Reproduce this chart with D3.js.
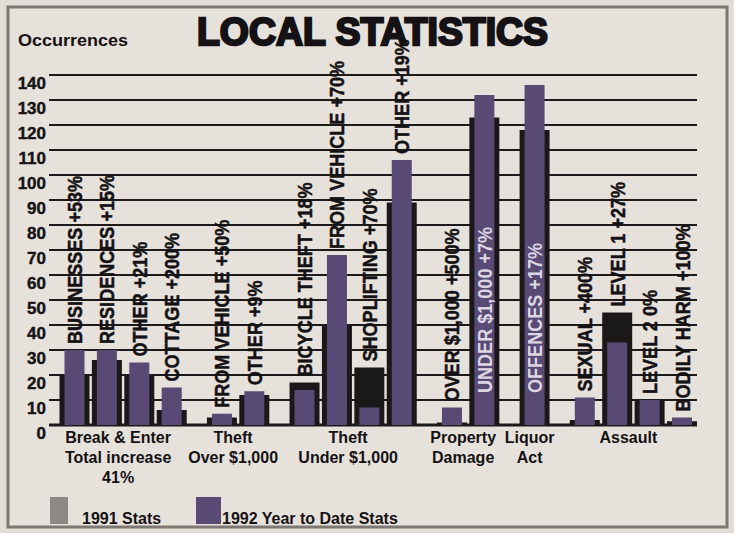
<!DOCTYPE html>
<html>
<head>
<meta charset="utf-8">
<script src="https://cdn.jsdelivr.net/npm/d3@7"></script>
<style>
  body { margin: 0; background: #e3ddd7; }
  svg { display: block; }
  text { font-family: "Liberation Sans", Arial, sans-serif; font-weight: bold; fill: #141214; }
</style>
</head>
<body>
<div id="chart"></div>
<script>
const w = 734
const h = 533

// --- Data ---
const categoryLines = [
  ["Break & Enter", "Total increase", "41%"],
  ["Theft", "Over $1,000"],
  ["Theft", "Under $1,000"],
  ["Property", "Damage"],
  ["Liquor", "Act"],
  ["Assault"]
]
// group index of each sub bar
const subGroup = [0, 0, 0, 0, 1, 1, 2, 2, 2, 2, 3, 3, 4, 5, 5, 5, 5]
const subLabels = [
  "BUSINESSES +53%", "RESIDENCES +15%", "OTHER +21%", "COTTAGE +200%",
  "FROM VEHICLE +50%", "OTHER +9%",
  "BICYCLE THEFT +18%", "FROM VEHICLE +70%", "SHOPLIFTING +70%", "OTHER +19%",
  "OVER $1,000 +500%", "UNDER $1,000 +7%",
  "OFFENCES +17%",
  "SEXUAL +400%", "LEVEL 1 +27%", "LEVEL 2 0%", "BODILY HARM +100%"
]
const stats1991 = [20, 26, 20, 6, 3, 12, 17, 40, 23, 89, 1, 123, 118, 2, 45, 10, 1.5]
const stats1992 = [30, 30, 25, 15, 4.5, 13.5, 14, 68, 7, 106, 7, 132, 136, 11, 33, 10, 3]
// labels printed inside the bar (white)
const labelInside = [11, 12]
const yTicks = d3.range(0, 141, 10)
const legendItems = ["1991 Stats", "1992 Year to Date Stats"]

const svg = d3.select("#chart")
  .append("svg")
    .attr("width", w)
    .attr("height", h)

// frame
svg.append("rect")
  .attr("x", 8).attr("y", 7)
  .attr("width", 719).attr("height", 520)
  .attr("fill", "#e7e1db")
  .attr("stroke", "#7d7874")
  .attr("stroke-width", 3)

// Scales
const groupGap = 0.55
const slot = subGroup.map((g, i) => i + g * groupGap)
const xScale = d3.scaleLinear()
  .domain([0, d3.max(slot)])
  .range([74.5, 682])

const yScale = d3.scaleLinear()
  .domain([0, 140])
  .range([425, 75])

// Title
svg.append("text")
  .attr("x", 197).attr("y", 45)
  .attr("textLength", 351)
  .attr("lengthAdjust", "spacingAndGlyphs")
  .style("font-size", "38px")
  .style("stroke", "#141214")
  .style("stroke-width", 2.4)
  .text("LOCAL STATISTICS")

svg.append("text")
  .attr("x", 18).attr("y", 46)
  .attr("textLength", 110)
  .attr("lengthAdjust", "spacingAndGlyphs")
  .style("font-size", "16px")
  .text("Occurrences")

// Grid lines + tick labels
const grid = svg.append("g")
grid.selectAll("line")
  .data(yTicks)
  .join("line")
    .attr("x1", 49).attr("x2", 697)
    .attr("y1", d => yScale(d)).attr("y2", d => yScale(d))
    .attr("stroke", "#1c1a1b")
    .attr("stroke-width", d => d === 0 ? 3 : 2)

grid.selectAll("text")
  .data(yTicks)
  .join("text")
    .attr("x", 46)
    .attr("y", d => yScale(d) + 14)
    .attr("text-anchor", "end")
    .style("font-size", "17px")
    .style("stroke", "#141214")
    .style("stroke-width", 0.4)
    .text(d => d)

// Bars: 1991 wider behind, 1992 in front
const bars = svg.append("g")
bars.selectAll("rect.y91")
  .data(stats1991)
  .join("rect")
    .attr("class", "y91")
    .attr("x", (d, i) => xScale(slot[i]) - 15)
    .attr("width", 30)
    .attr("y", d => yScale(d))
    .attr("height", d => yScale(0) - yScale(d))
    .attr("fill", "#1b1819")

bars.selectAll("rect.y92")
  .data(stats1992)
  .join("rect")
    .attr("class", "y92")
    .attr("x", (d, i) => xScale(slot[i]) - 10)
    .attr("width", 20)
    .attr("y", d => yScale(d))
    .attr("height", d => yScale(0) - yScale(d))
    .attr("fill", "#584a75")

// Rotated sub labels
svg.append("g")
  .selectAll("text")
  .data(subLabels)
  .join("text")
    .attr("transform", (d, i) => {
      const inside = labelInside.includes(i)
      const top = yScale(Math.max(stats1991[i], stats1992[i]))
      const y0 = inside ? yScale(0) - 32 : top - 6
      return `translate(${xScale(slot[i]) + 7.5},${y0}) rotate(-90) scale(0.86,1)`
    })
    .style("font-size", "21px")
    .style("fill", (d, i) => labelInside.includes(i) ? "#ddd6e3" : "#141214")
    .style("stroke", (d, i) => labelInside.includes(i) ? "none" : "#141214")
    .style("stroke-width", 0.5)
    .text(d => d)

// Category labels under the axis
const catX = categoryLines.map((c, g) => d3.mean(slot.filter((s, i) => subGroup[i] === g), s => xScale(s)) - 5)
categoryLines.forEach((lines, g) => {
  svg.append("text")
    .attr("x", catX[g])
    .attr("y", 443)
    .attr("text-anchor", "middle")
    .style("font-size", "16px")
    .selectAll("tspan")
    .data(lines)
    .join("tspan")
      .attr("x", catX[g])
      .attr("dy", (d, i) => i === 0 ? 0 : 20)
      .text(d => d)
})

// Legend
const legendColors = ["#8b8886", "#584a75"]
const legendX = [50, 196]
const legend = svg.append("g")
legend.selectAll("rect")
  .data(legendItems)
  .join("rect")
    .attr("x", (d, i) => legendX[i])
    .attr("y", 497)
    .attr("width", (d, i) => i === 0 ? 18 : 25)
    .attr("height", 27)
    .attr("fill", (d, i) => legendColors[i])
legend.selectAll("text")
  .data(legendItems)
  .join("text")
    .attr("x", (d, i) => i === 0 ? 82 : 222)
    .attr("y", 524)
    .style("font-size", "16px")
    .text(d => d)
</script>
</body>
</html>
